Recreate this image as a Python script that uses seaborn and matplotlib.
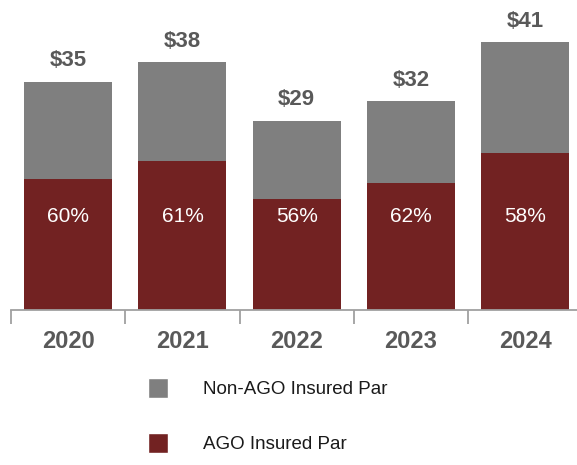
import matplotlib
matplotlib.use("Agg")
import matplotlib.pyplot as plt
from matplotlib.patches import Patch
import pandas as pd
import seaborn as sns

years = ["2020", "2021", "2022", "2023", "2024"]
total_par = [35, 38, 29, 32, 41]
ago_par = [20.0, 22.9, 17.0, 19.5, 24.1]
ago_pct = [60, 61, 56, 62, 58]

RED = "#722222"
GRAY = "#7f7f7f"
TEXT_GRAY = "#595959"
AXIS_GRAY = "#a0a0a0"

df = pd.DataFrame({"year": years, "total": total_par, "ago": ago_par, "pct": ago_pct})

sns.set_theme(style="white")
plt.rcParams["font.family"] = ["Liberation Sans", "DejaVu Sans"]

fig = plt.figure(figsize=(5.77, 4.65), dpi=100)
ax = fig.add_axes([11 / 577, 155 / 465, 571.5 / 577, 310 / 465])

sns.barplot(data=df, x="year", y="total", color=GRAY, saturation=1, width=0.77,
            linewidth=0, ax=ax)
sns.barplot(data=df, x="year", y="ago", color=RED, saturation=1, width=0.77,
            linewidth=0, ax=ax)

ax.set_xlim(-0.5, 4.5)
ax.set_ylim(0, 47.5)
ax.set_xlabel("")
ax.set_ylabel("")
ax.set_yticks([])

# totals above the bars, AGO share inside the red part
for i, row in df.iterrows():
    ax.annotate(f"${row['total']}", (i, row["total"]), xytext=(0, 7.5),
                textcoords="offset points", ha="center", va="bottom",
                fontsize=16, fontweight="bold", color=TEXT_GRAY)
    ax.text(i, 14.4, f"{row['pct']}%", ha="center", va="center",
            fontsize=15, color="white")

for s in ["top", "right", "left"]:
    ax.spines[s].set_visible(False)
ax.spines["bottom"].set_color(AXIS_GRAY)
ax.spines["bottom"].set_linewidth(1.3)

ax.set_xticks([i - 0.5 for i in range(6)], minor=True)
ax.tick_params(axis="x", which="minor", bottom=True, length=10, width=1.3,
               color=AXIS_GRAY, direction="out")
ax.tick_params(axis="x", which="major", bottom=True, length=0, pad=14.5)
for lbl in ax.get_xticklabels():
    lbl.set_fontsize(17)
    lbl.set_fontweight("bold")
    lbl.set_color(TEXT_GRAY)

handles = [Patch(facecolor=GRAY, label="Non-AGO Insured Par"),
           Patch(facecolor=RED, label="AGO Insured Par")]
fig.legend(handles=handles, loc="upper left", bbox_to_anchor=(148 / 577, 1 - 378 / 465),
           frameon=False, fontsize=13.5, handlelength=1.07, handleheight=1.26,
           handletextpad=1.85, labelspacing=1.85, borderpad=0, borderaxespad=0,
           labelcolor="#1a1a1a")

fig.savefig("out.png", dpi=100)
